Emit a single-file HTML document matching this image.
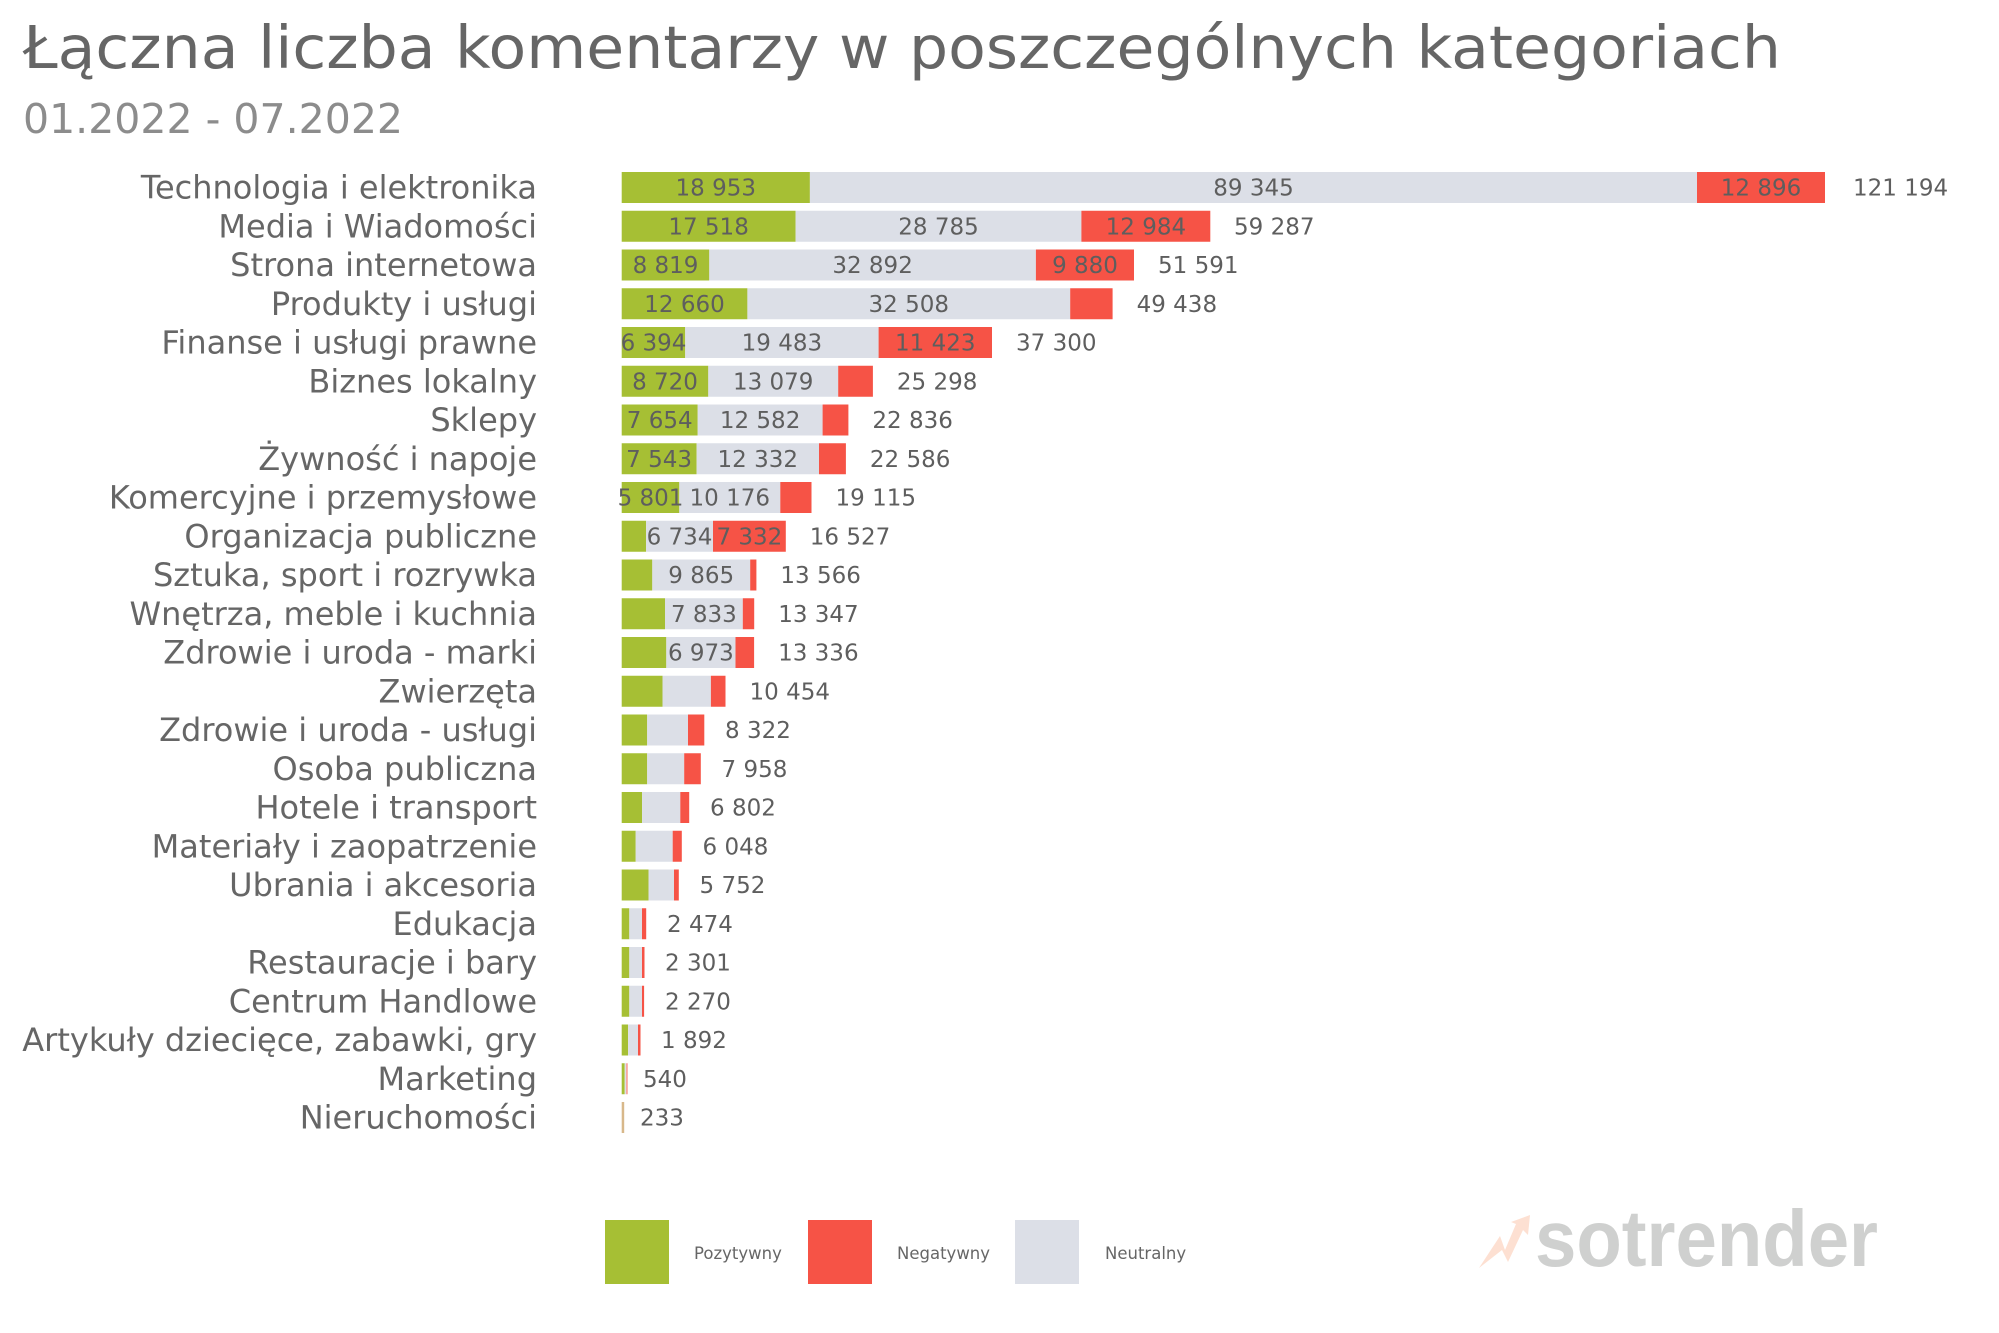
<!DOCTYPE html>
<html><head><meta charset="utf-8"><style>
html,body{margin:0;padding:0;background:#fff}
svg{display:block}
text{font-family:"DejaVu Sans","Liberation Sans",sans-serif}
.c{font-size:32px;fill:#666;text-anchor:end}
.v{font-size:23px;fill:#5e5e5e;text-anchor:middle}
.t{font-size:23px;fill:#5e5e5e}
.g{fill:#a6bf34}.n{fill:#dcdfe7}.r{fill:#f65346}
</style></head><body>
<svg width="1999" height="1333" viewBox="0 0 1999 1333" xmlns="http://www.w3.org/2000/svg">
<text x="23" y="68" font-size="59" fill="#666" textLength="1758" lengthAdjust="spacingAndGlyphs">Łączna liczba komentarzy w poszczególnych kategoriach</text>
<text x="23" y="133" font-size="41" fill="#8c8c8c" textLength="380" lengthAdjust="spacingAndGlyphs">01.2022 - 07.2022</text>

<g transform="translate(0,1.5)">
<g>
<text class="c" x="537" y="197">Technologia i elektronika</text>
<text class="c" x="537" y="235.75">Media i Wiadomości</text>
<text class="c" x="537" y="274.5">Strona internetowa</text>
<text class="c" x="537" y="313.25">Produkty i usługi</text>
<text class="c" x="537" y="352">Finanse i usługi prawne</text>
<text class="c" x="537" y="390.75">Biznes lokalny</text>
<text class="c" x="537" y="429.5">Sklepy</text>
<text class="c" x="537" y="468.25">Żywność i napoje</text>
<text class="c" x="537" y="507">Komercyjne i przemysłowe</text>
<text class="c" x="537" y="545.75">Organizacja publiczne</text>
<text class="c" x="537" y="584.5">Sztuka, sport i rozrywka</text>
<text class="c" x="537" y="623.25">Wnętrza, meble i kuchnia</text>
<text class="c" x="537" y="662">Zdrowie i uroda - marki</text>
<text class="c" x="537" y="700.75">Zwierzęta</text>
<text class="c" x="537" y="739.5">Zdrowie i uroda - usługi</text>
<text class="c" x="537" y="778.25">Osoba publiczna</text>
<text class="c" x="537" y="817">Hotele i transport</text>
<text class="c" x="537" y="855.75">Materiały i zaopatrzenie</text>
<text class="c" x="537" y="894.5">Ubrania i akcesoria</text>
<text class="c" x="537" y="933.25">Edukacja</text>
<text class="c" x="537" y="972">Restauracje i bary</text>
<text class="c" x="537" y="1010.75">Centrum Handlowe</text>
<text class="c" x="537" y="1049.5">Artykuły dziecięce, zabawki, gry</text>
<text class="c" x="537" y="1088.25">Marketing</text>
<text class="c" x="537" y="1127">Nieruchomości</text>
</g>

<rect class="g" x="621.7" y="170.5" width="188.2" height="31"/><rect class="n" x="809.9" y="170.5" width="887.1" height="31"/><rect class="r" x="1697" y="170.5" width="128" height="31"/>
<rect class="g" x="621.7" y="209.25" width="173.9" height="31"/><rect class="n" x="795.6" y="209.25" width="285.8" height="31"/><rect class="r" x="1081.4" y="209.25" width="128.9" height="31"/>
<rect class="g" x="621.7" y="248" width="87.6" height="31"/><rect class="n" x="709.3" y="248" width="326.6" height="31"/><rect class="r" x="1035.9" y="248" width="98.1" height="31"/>
<rect class="g" x="621.7" y="286.75" width="125.7" height="31"/><rect class="n" x="747.4" y="286.75" width="322.8" height="31"/><rect class="r" x="1070.2" y="286.75" width="42.4" height="31"/>
<rect class="g" x="621.7" y="325.5" width="63.5" height="31"/><rect class="n" x="685.2" y="325.5" width="193.4" height="31"/><rect class="r" x="878.6" y="325.5" width="113.4" height="31"/>
<rect class="g" x="621.7" y="364.25" width="86.6" height="31"/><rect class="n" x="708.3" y="364.25" width="129.9" height="31"/><rect class="r" x="838.2" y="364.25" width="34.7" height="31"/>
<rect class="g" x="621.7" y="403" width="76" height="31"/><rect class="n" x="697.7" y="403" width="124.9" height="31"/><rect class="r" x="822.6" y="403" width="25.8" height="31"/>
<rect class="g" x="621.7" y="441.75" width="74.9" height="31"/><rect class="n" x="696.6" y="441.75" width="122.4" height="31"/><rect class="r" x="819" y="441.75" width="26.9" height="31"/>
<rect class="g" x="621.7" y="480.5" width="57.6" height="31"/><rect class="n" x="679.3" y="480.5" width="101" height="31"/><rect class="r" x="780.3" y="480.5" width="31.2" height="31"/>
<rect class="g" x="621.7" y="519.25" width="24.4" height="31"/><rect class="n" x="646.1" y="519.25" width="66.9" height="31"/><rect class="r" x="713" y="519.25" width="72.8" height="31"/>
<rect class="g" x="621.7" y="558" width="30.6" height="31"/><rect class="n" x="652.3" y="558" width="97.9" height="31"/><rect class="r" x="750.2" y="558" width="6.2" height="31"/>
<rect class="g" x="621.7" y="596.75" width="43.3" height="31"/><rect class="n" x="665" y="596.75" width="77.8" height="31"/><rect class="r" x="742.8" y="596.75" width="11.4" height="31"/>
<rect class="g" x="621.7" y="635.5" width="44.6" height="31"/><rect class="n" x="666.3" y="635.5" width="69.2" height="31"/><rect class="r" x="735.5" y="635.5" width="18.6" height="31"/>
<rect class="g" x="621.7" y="674.25" width="40.8" height="31"/><rect class="n" x="662.5" y="674.25" width="48.4" height="31"/><rect class="r" x="710.9" y="674.25" width="14.6" height="31"/>
<rect class="g" x="621.7" y="713" width="25.5" height="31"/><rect class="n" x="647.2" y="713" width="40.8" height="31"/><rect class="r" x="688" y="713" width="16.3" height="31"/>
<rect class="g" x="621.7" y="751.75" width="25.5" height="31"/><rect class="n" x="647.2" y="751.75" width="37" height="31"/><rect class="r" x="684.2" y="751.75" width="16.6" height="31"/>
<rect class="g" x="621.7" y="790.5" width="20.4" height="31"/><rect class="n" x="642.1" y="790.5" width="38.2" height="31"/><rect class="r" x="680.3" y="790.5" width="8.9" height="31"/>
<rect class="g" x="621.7" y="829.25" width="14" height="31"/><rect class="n" x="635.7" y="829.25" width="37" height="31"/><rect class="r" x="672.7" y="829.25" width="9.1" height="31"/>
<rect class="g" x="621.7" y="868" width="26.8" height="31"/><rect class="n" x="648.5" y="868" width="25.5" height="31"/><rect class="r" x="674" y="868" width="4.8" height="31"/>
<rect class="g" x="621.7" y="906.75" width="7.6" height="31"/><rect class="n" x="629.3" y="906.75" width="12.7" height="31"/><rect class="r" x="642" y="906.75" width="4.2" height="31"/>
<rect class="g" x="621.7" y="945.5" width="7.6" height="31"/><rect class="n" x="629.3" y="945.5" width="12.7" height="31"/><rect class="r" x="642" y="945.5" width="2.5" height="31"/>
<rect class="g" x="621.7" y="984.25" width="7.6" height="31"/><rect class="n" x="629.3" y="984.25" width="12.7" height="31"/><rect class="r" x="642" y="984.25" width="2.1" height="31"/>
<rect class="g" x="621.7" y="1023" width="6.4" height="31"/><rect class="n" x="628.1" y="1023" width="9.9" height="31"/><rect class="r" x="638" y="1023" width="2.5" height="31"/>
<rect class="g" x="621.7" y="1061.75" width="3" height="31"/><rect class="n" x="624.7" y="1061.75" width="1.5" height="31"/><rect fill="#f7968e" x="626.2" y="1061.75" width="1.5" height="31"/>
<rect fill="#d8b88a" x="621.7" y="1100.5" width="2.5" height="31"/>

<text class="v" x="715.8" y="194">18 953</text><text class="v" x="1253.5" y="194">89 345</text><text class="v" x="1761" y="194">12 896</text>
<text class="v" x="708.6" y="232.75">17 518</text><text class="v" x="938.5" y="232.75">28 785</text><text class="v" x="1145.9" y="232.75">12 984</text>
<text class="v" x="665.5" y="271.5">8 819</text><text class="v" x="872.6" y="271.5">32 892</text><text class="v" x="1085" y="271.5">9 880</text>
<text class="v" x="684.5" y="310.25">12 660</text><text class="v" x="908.8" y="310.25">32 508</text>
<text class="v" x="653.5" y="349">6 394</text><text class="v" x="781.9" y="349">19 483</text><text class="v" x="935.3" y="349">11 423</text>
<text class="v" x="665" y="387.75">8 720</text><text class="v" x="773.2" y="387.75">13 079</text>
<text class="v" x="659.7" y="426.5">7 654</text><text class="v" x="760.1" y="426.5">12 582</text>
<text class="v" x="659.1" y="465.25">7 543</text><text class="v" x="757.8" y="465.25">12 332</text>
<text class="v" x="650.5" y="504">5 801</text><text class="v" x="729.8" y="504">10 176</text>
<text class="v" x="679.5" y="542.75">6 734</text><text class="v" x="749.4" y="542.75">7 332</text>
<text class="v" x="701.2" y="581.5">9 865</text>
<text class="v" x="703.9" y="620.25">7 833</text>
<text class="v" x="700.9" y="659">6 973</text>

<text class="t" x="1853" y="194">121 194</text>
<text class="t" x="1234" y="232.75">59 287</text>
<text class="t" x="1158" y="271.5">51 591</text>
<text class="t" x="1136.6" y="310.25">49 438</text>
<text class="t" x="1016" y="349">37 300</text>
<text class="t" x="896.9" y="387.75">25 298</text>
<text class="t" x="872.4" y="426.5">22 836</text>
<text class="t" x="869.9" y="465.25">22 586</text>
<text class="t" x="835.5" y="504">19 115</text>
<text class="t" x="809.8" y="542.75">16 527</text>
<text class="t" x="780.4" y="581.5">13 566</text>
<text class="t" x="778.2" y="620.25">13 347</text>
<text class="t" x="778.1" y="659">13 336</text>
<text class="t" x="749.5" y="697.75">10 454</text>
<text class="t" x="725" y="736.5">8 322</text>
<text class="t" x="721.5" y="775.25">7 958</text>
<text class="t" x="710" y="814">6 802</text>
<text class="t" x="702.5" y="852.75">6 048</text>
<text class="t" x="699.5" y="891.5">5 752</text>
<text class="t" x="667" y="930.25">2 474</text>
<text class="t" x="665" y="969">2 301</text>
<text class="t" x="665" y="1007.75">2 270</text>
<text class="t" x="661" y="1046.5">1 892</text>
<text class="t" x="643" y="1085.25">540</text>
<text class="t" x="640" y="1124">233</text>
</g>

<rect class="g" x="605" y="1220" width="64" height="64"/>
<text x="694" y="1259" font-size="16.5" fill="#666">Pozytywny</text>
<rect class="r" x="808" y="1220" width="64" height="64"/>
<text x="897" y="1259" font-size="16.5" fill="#666">Negatywny</text>
<rect class="n" x="1015" y="1220" width="64" height="64"/>
<text x="1105" y="1259" font-size="16.5" fill="#666">Neutralny</text>

<polygon points="1479,1268 1500,1236 1505,1250 1516,1224 1511,1222 1530,1215 1528,1235 1523,1230 1508,1262 1502,1250" fill="#fde0d2"/>
<text x="1535" y="1266" font-weight="bold" font-size="80" fill="#cfd0cf" textLength="343" lengthAdjust="spacingAndGlyphs" style="font-family:'Liberation Sans',sans-serif">sotrender</text>
</svg>
</body></html>
